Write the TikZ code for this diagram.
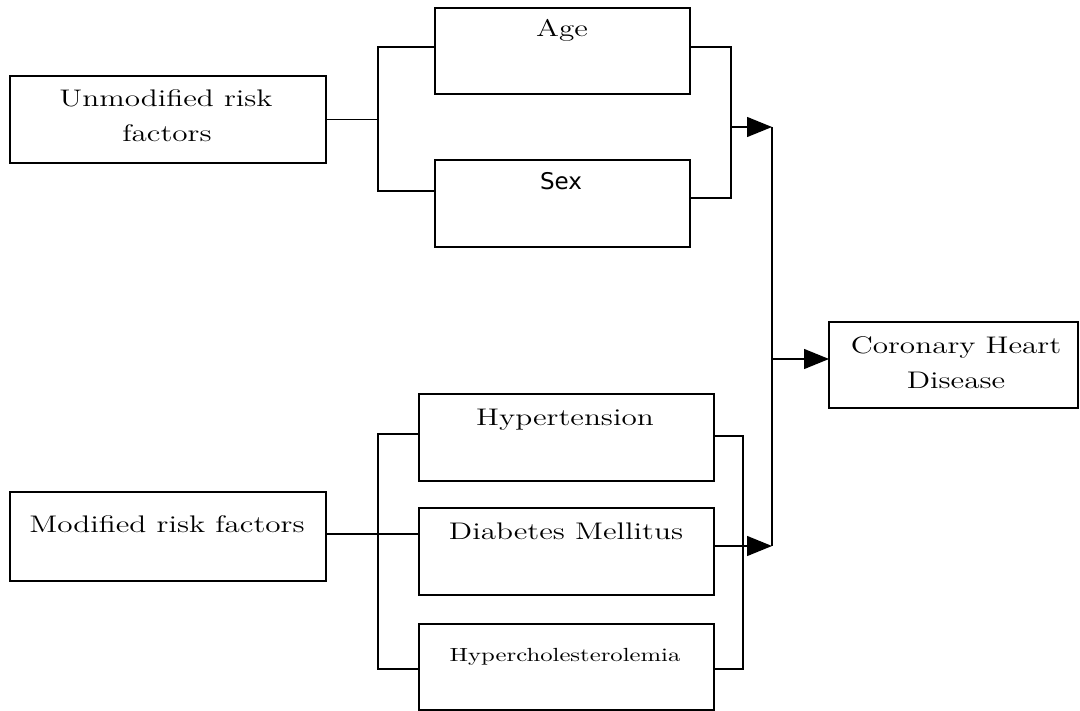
\documentclass[tikz,border=0pt]{standalone}
\usepackage{fontspec}
\usepackage{graphicx}
\newfontfamily\sexfont{DejaVu Sans}
\usetikzlibrary{arrows.meta,calc}
\newcommand\widetxt[1]{\scalebox{1.3}[1]{#1}}
\begin{document}
\begin{tikzpicture}[x=0.5pt,y=-0.5pt,
  box/.style={draw, line width=0.65pt, inner sep=0pt, outer sep=0pt},
  conn/.style={line width=0.65pt},
  arr/.style={conn, -{Triangle[length=12.5pt,width=10pt]}},
  lbl/.style={anchor=base, inner sep=0pt, font=\fontsize{12}{14}\selectfont},
  small/.style={anchor=base, inner sep=0pt, font=\fontsize{9.5}{11}\selectfont}]
\useasboundingbox (0,0) rectangle (1080,711);

% boxes
\node[box, minimum width=158pt, minimum height=43.5pt] (unmod) at (168,119.5) {};
\node[box, minimum width=127.5pt, minimum height=43pt] (age) at (562.5,51) {};
\node[box, minimum width=127.5pt, minimum height=43.5pt] (sex) at (562.5,203.5) {};
\node[box, minimum width=147.5pt, minimum height=43.5pt] (hyp) at (566.5,437.5) {};
\node[box, minimum width=147.5pt, minimum height=43.5pt] (dm) at (566.5,551.5) {};
\node[box, minimum width=147.5pt, minimum height=43pt] (hc) at (566.5,667) {};
\node[box, minimum width=158pt, minimum height=44.5pt] (mod) at (168,536.5) {};
\node[box, minimum width=124.5pt, minimum height=43pt] (chd) at (953.5,365) {};

% texts
\node[lbl] (unmod1) at (166,107) {\widetxt{Unmodified risk}};
\node[lbl] (unmod2) at (167,142) {\widetxt{factors}};
\node[lbl] (agetxt) at (562,37) {\widetxt{Age}};
\node[anchor=base, inner sep=0pt, font=\sexfont\fontsize{11.5}{13}\selectfont] (sextxt) at (561,190) {Sex};
\node[lbl] (hyptxt) at (565,425) {\widetxt{Hypertension}};
\node[lbl] (dmtxt) at (566,539) {\widetxt{Diabetes Mellitus}};
\node[small] (hctxt) at (565,661) {\widetxt{Hypercholesterolemia}};
\node[lbl] (modtxt) at (167,532) {\widetxt{Modified risk factors}};
\node[lbl] (chd1) at (956,353) {\widetxt{Coronary Heart}};
\node[lbl] (chd2) at (956,388) {\widetxt{Disease}};

% junction coordinates
\coordinate (ulT) at (378,47);
\coordinate (ulM) at (378,119.5);
\coordinate (ulB) at (378,191);
\coordinate (urT) at (731,47);
\coordinate (urM) at (731,127);
\coordinate (urB) at (731,198);
\coordinate (mainT) at (772,127);
\coordinate (mainM) at (772,359);
\coordinate (mainB) at (772,546);
\coordinate (llT) at (378,434);
\coordinate (llB) at (378,669);
\coordinate (lrT) at (743,436);
\coordinate (lrB) at (743,669);

% upper group
\draw[conn] (unmod.east) -- (ulM);
\draw[conn] ($(age.west)+(0,-4)$) -- (ulT) -- (ulB) -- ($(sex.west)+(0,-12.5)$);
\draw[conn] ($(age.east)+(0,-4)$) -- (urT) -- (urB) -- ($(sex.east)+(0,-5.5)$);
\draw[arr] (urM) -- (mainT);

% main vertical and arrow to CHD
\draw[conn] (mainT) -- (mainB);
\draw[arr] (mainM) -- ($(chd.west)+(0,-6)$);

% lower group
\draw[conn] ($(mod.east)+(0,-2.5)$) -- ($(dm.west)+(0,-17.5)$);
\draw[conn] ($(hyp.west)+(0,-3.5)$) -- (llT) -- (llB) -- ($(hc.west)+(0,2)$);
\draw[conn] ($(hyp.east)+(0,-1.5)$) -- (lrT) -- (lrB) -- ($(hc.east)+(0,2)$);
\draw[arr] ($(dm.east)+(0,-5.5)$) -- (mainB);
\end{tikzpicture}
\end{document}
